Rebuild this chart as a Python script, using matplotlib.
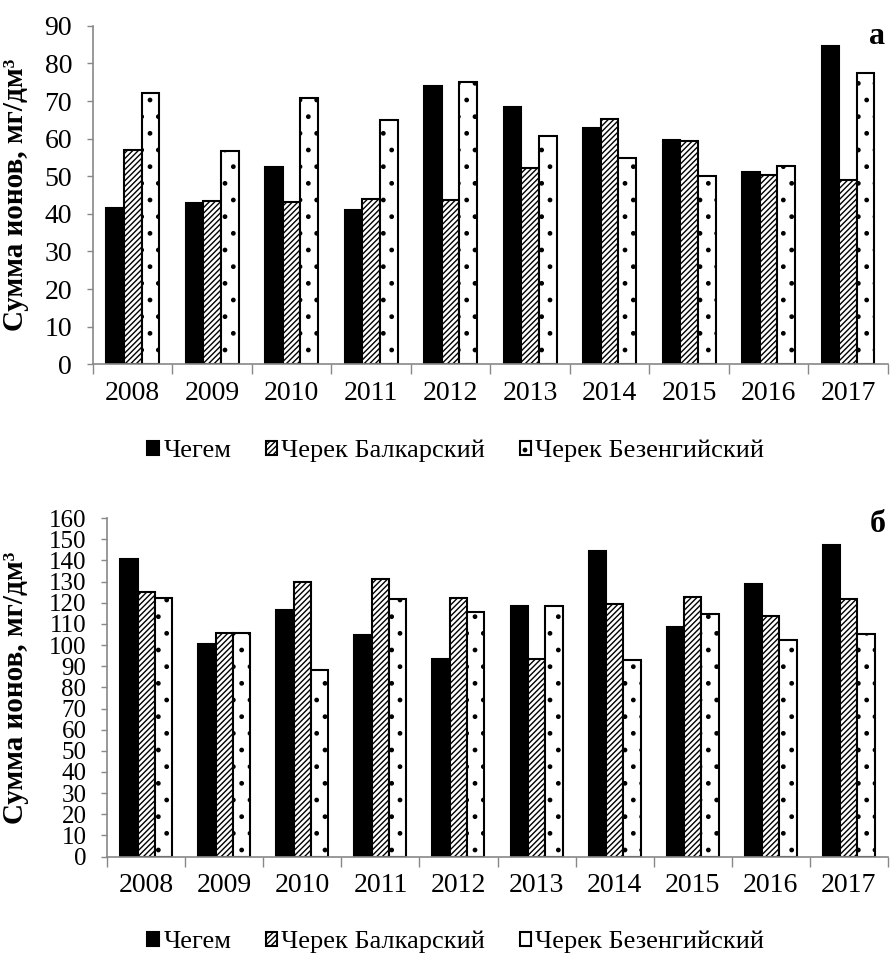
import numpy as np
import matplotlib
matplotlib.use("Agg")
import matplotlib.pyplot as plt

plt.rcParams['font.family'] = ['Liberation Serif', 'DejaVu Serif']
plt.rcParams['hatch.linewidth'] = 1.0

years = ['2008', '2009', '2010', '2011', '2012', '2013', '2014', '2015', '2016', '2017']
series_names = ['Чегем', 'Черек Балкарский', 'Черек Безенгийский']

# panel а
chegem_a = [41.6, 43.0, 52.4, 41.0, 74.0, 68.5, 62.9, 59.7, 51.2, 84.6]
balkar_a = [57.0, 43.3, 43.1, 43.9, 43.6, 52.3, 65.1, 59.3, 50.4, 48.9]
bezeng_a = [72.0, 56.8, 70.7, 64.9, 75.1, 60.7, 54.8, 50.1, 52.8, 77.5]

# panel б
chegem_b = [140.6, 100.3, 116.6, 104.8, 93.2, 118.5, 144.4, 108.6, 128.8, 147.5]
balkar_b = [125.3, 105.5, 130.0, 131.0, 122.2, 93.2, 119.3, 122.5, 113.8, 122.0]
bezeng_b = [122.2, 105.5, 88.1, 121.7, 115.7, 118.7, 93.0, 114.9, 102.5, 105.1]

styles = [
    dict(color='black', edgecolor='black'),
    dict(color='white', edgecolor='black', hatch='//////'),
    dict(color='white', edgecolor='black', hatch='.'),
]

fig = plt.figure(figsize=(8.94, 9.56), dpi=100)


def draw_panel(rect, data, ymax, ystep, ytick_size, letter, letter_xy, legend_y):
    ax = fig.add_axes(rect)
    x = np.arange(len(years))
    w = 0.222
    for i, (vals, st) in enumerate(zip(data, styles)):
        ax.bar(x + (i - 1) * w, vals, w, linewidth=1.5, label=series_names[i], **st)
    ax.set_xlim(-0.5, len(years) - 0.5)
    ax.set_ylim(0, ymax)
    ax.set_yticks(np.arange(0, ymax + 1, ystep))
    ax.set_xticks(x)
    ax.set_xticklabels(years)
    ax.set_xticks(np.arange(-0.5, len(years)), minor=True)
    ax.tick_params(axis='x', which='major', length=0, labelsize=20, pad=12)
    ax.tick_params(axis='x', which='minor', length=7, color='#888888', width=1)
    ax.tick_params(axis='y', length=4, color='#888888', width=1, labelsize=ytick_size, pad=11)
    for s in ['top', 'right']:
        ax.spines[s].set_visible(False)
    for s in ['left', 'bottom']:
        ax.spines[s].set_color('#888888')
        ax.spines[s].set_linewidth(1.2)
    ax.set_ylabel('Сумма ионов, мг/дм³', fontsize=21, fontweight='bold')
    fig.text(letter_xy[0], letter_xy[1], letter, fontsize=23, fontweight='bold',
             ha='center', va='center')
    handles, labels = ax.get_legend_handles_labels()
    fig.legend(handles, labels, loc='center', bbox_to_anchor=(0.51, legend_y),
               ncol=3, frameon=False, fontsize=19, handlelength=0.45, handleheight=0.45,
               handletextpad=0.15, columnspacing=1.3)
    return ax


ax1 = draw_panel([0.104, 0.619, 0.889, 0.354], [chegem_a, balkar_a, bezeng_a],
                 90, 10, 20, 'а', (0.981, 0.962), 1 - 451 / 956)
ax1.yaxis.set_label_coords(-0.08, 0.5)

ax2 = draw_panel([0.120, 0.104, 0.873, 0.354], [chegem_b, balkar_b, bezeng_b],
                 160, 10, 18, 'б', (0.9815, 0.451), 1 - 942 / 956)
ax2.yaxis.set_label_coords(-0.1, 0.5)

fig.savefig('out.png', dpi=100)
